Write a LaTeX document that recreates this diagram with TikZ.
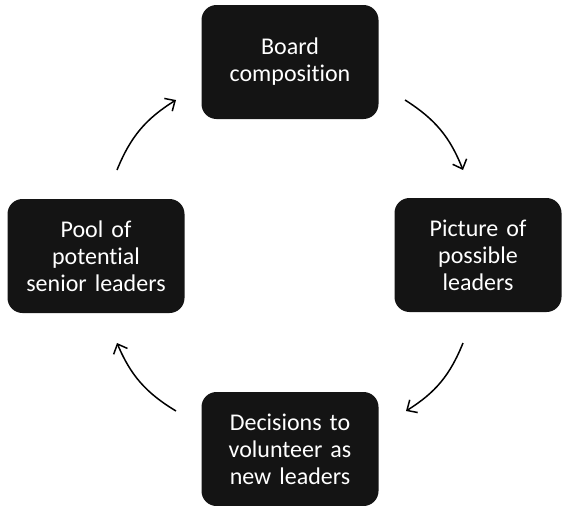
\documentclass[tikz,border=0pt]{standalone}
\usepackage{fontspec}
\setmainfont{Carlito}[Ligatures=NoCommon, WordSpace=0.75]
\usetikzlibrary{positioning,arrows.meta}
\begin{document}
\begin{tikzpicture}[node distance=194pt, on grid]
    \tikzstyle{cyclebox} = [rectangle, rounded corners=15pt,
      minimum width=177pt, minimum height=114pt, text width=170pt, align=center,
      draw=none, fill=black!92, text=white, font=\fontsize{24}{27}\selectfont]
    \tikzstyle{arrow} = [-{Straight Barb[length=8pt,width=15pt]}, line width=1.5pt, bend left=18]
    \useasboundingbox (0pt,0pt) rectangle (563pt,-506pt);

    \node (board) [cyclebox] at (290pt,-62pt) {Board\\composition};
    \node (picture) [cyclebox, minimum width=167pt, text width=160pt, below right=193pt and 188pt of board] {Picture of\\possible\\leaders};
    \node (decisions) [cyclebox, below=387pt of board] {Decisions to\\volunteer as\\new leaders};
    \node (pool) [cyclebox, below left=194pt and 194pt of board] {Pool of\\potential\\senior leaders};

    % arrow end points
    \coordinate (a1) at (405pt,-100pt);
    \coordinate (b1) at (463pt,-170pt);
    \coordinate (a2) at (463pt,-343pt);
    \coordinate (b2) at (406pt,-411pt);
    \coordinate (a3) at (176pt,-411pt);
    \coordinate (b3) at (117pt,-343pt);
    \coordinate (a4) at (117pt,-170pt);
    \coordinate (b4) at (176pt,-100pt);

    \draw [arrow] (a1) to (b1);
    \draw [arrow] (a2) to (b2);
    \draw [arrow] (a3) to (b3);
    \draw [arrow] (a4) to (b4);
  \end{tikzpicture}
\end{document}
